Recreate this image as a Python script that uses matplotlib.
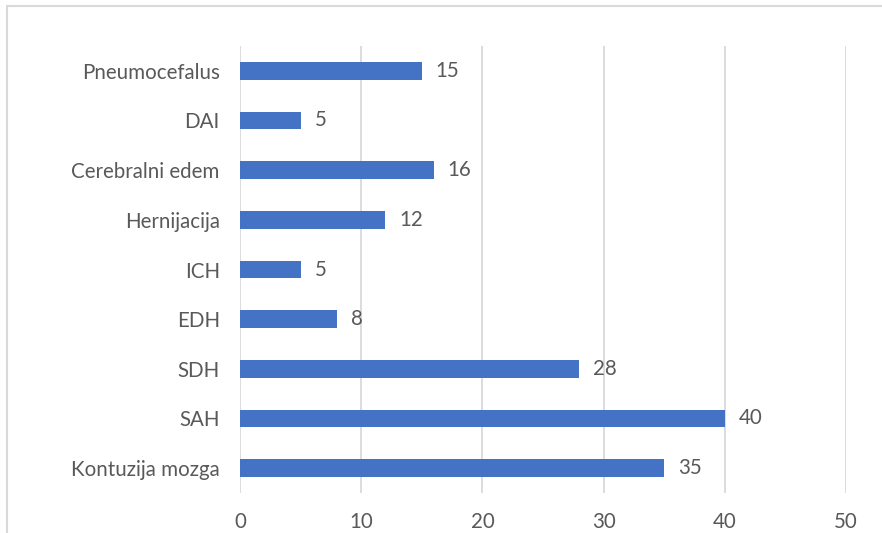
import matplotlib
matplotlib.use("Agg")
import matplotlib.pyplot as plt
from matplotlib.patches import Rectangle

categories = ["Kontuzija mozga", "SAH", "SDH", "EDH", "ICH", "Hernijacija",
              "Cerebralni edem", "DAI", "Pneumocefalus"]
values = [35, 40, 28, 8, 5, 12, 16, 5, 15]
xticks = [0, 10, 20, 30, 40, 50]

plt.rcParams['font.family'] = ['Lato', 'DejaVu Sans']
text_color = '#595959'
grid_color = '#d9d9d9'
fs = 14.8

fig = plt.figure(figsize=(8.82, 5.33), dpi=100)
W, H = 882, 533
ax = fig.add_axes([240 / W, 1 - 493 / H, (846 - 240) / W, (493 - 46) / H])

y = list(range(len(categories)))
ax.barh(y, values, height=0.36, color='#4472C4', zorder=3)
for yi, v in zip(y, values):
    ax.annotate(str(v), (v, yi), xytext=(10, 0), textcoords='offset points',
                va='center', ha='left', fontsize=fs, color=text_color)

ax.set_xlim(0, 50)
ax.set_ylim(-0.5, len(categories) - 0.5)
ax.set_xticks(xticks)
ax.set_xticklabels([str(t) for t in xticks])
ax.set_yticks(y)
ax.set_yticklabels(categories)
ax.tick_params(axis='both', length=0, labelsize=fs, labelcolor=text_color)
ax.tick_params(axis='x', pad=13.5)
ax.tick_params(axis='y', pad=14.5)
for s in ax.spines.values():
    s.set_visible(False)
ax.grid(axis='x', color=grid_color, linewidth=1.3, zorder=0)
ax.set_axisbelow(True)

# outer chart frame (cropped at right and bottom)
fig.add_artist(Rectangle((6.5 / W, -0.1), 1.2, 1 - 6.5 / H + 0.1,
                         transform=fig.transFigure, fill=False,
                         edgecolor=grid_color, linewidth=1.5))

fig.savefig('out.png', dpi=100)
